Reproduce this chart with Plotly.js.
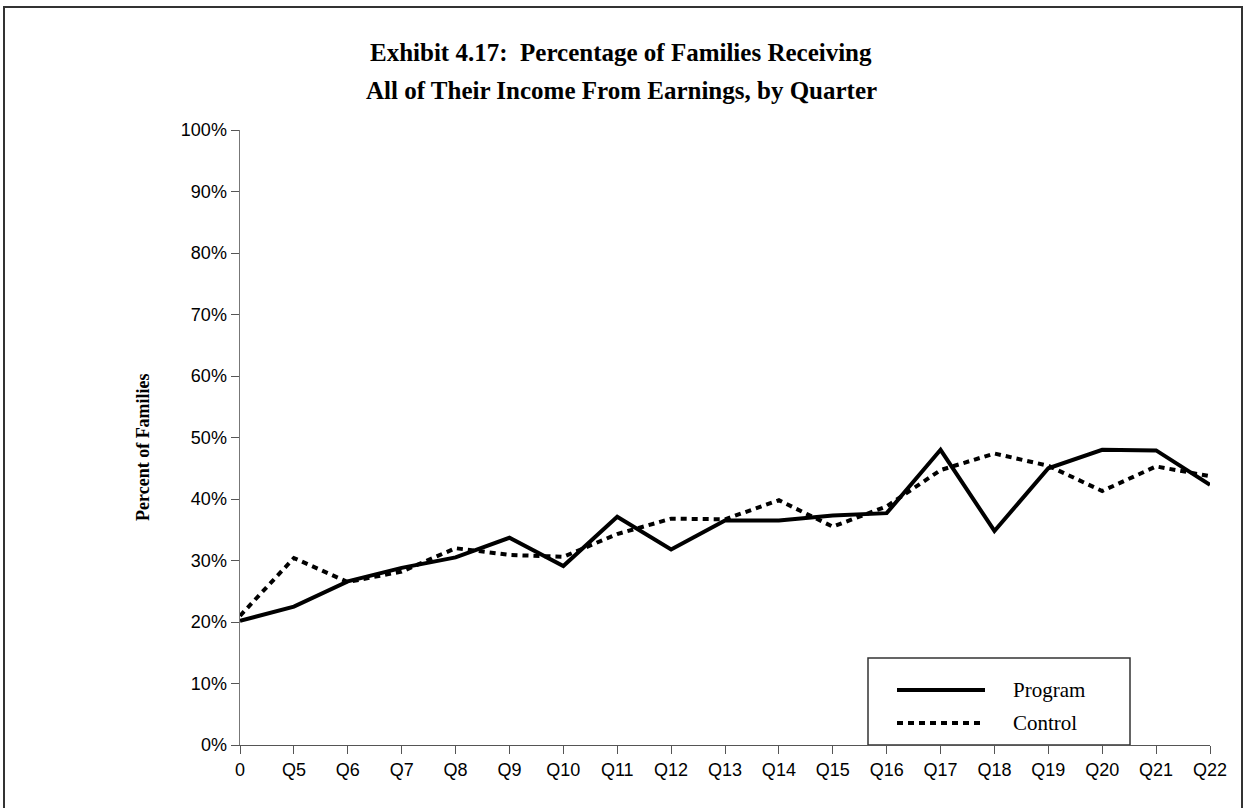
<!DOCTYPE html>
<html>
<head>
<meta charset="utf-8">
<script src="https://cdn.plot.ly/plotly-3.0.1.min.js"></script>
<style>
  html, body { margin: 0; padding: 0; background: #fff; overflow: hidden; }
  #frame { position: absolute; left: 3px; top: 6px; width: 1236px; height: 900px; border-left: 2px solid #333; border-top: 2px solid #333; border-right: 2px solid #333; pointer-events: none; }
  #chart { width: 1252px; height: 808px; }
</style>
</head>
<body>
<div id="chart"></div>
<div id="frame"></div>
<script>
const quarters = ["0","Q5","Q6","Q7","Q8","Q9","Q10","Q11","Q12","Q13","Q14","Q15","Q16","Q17","Q18","Q19","Q20","Q21","Q22"];
const programPct = [20.2, 22.5, 26.6, 28.8, 30.5, 33.7, 29.1, 37.1, 31.8, 36.5, 36.5, 37.3, 37.7, 48.0, 34.8, 45.0, 48.0, 47.9, 42.3];
const controlPct = [21.0, 30.4, 26.5, 28.2, 32.0, 30.9, 30.6, 34.3, 36.8, 36.7, 39.8, 35.5, 38.8, 44.7, 47.4, 45.4, 41.3, 45.3, 43.7];
const yTickVals = [0,10,20,30,40,50,60,70,80,90,100];
const yTickText = ["0%","10%","20%","30%","40%","50%","60%","70%","80%","90%","100%"];
const titleLines = ["Exhibit 4.17:  Percentage of Families Receiving", "All of Their Income From Earnings, by Quarter"];
const seriesNames = ["Program", "Control"];

const serif = "'Liberation Serif', 'Times New Roman', serif";
const sans = "'Liberation Sans', Arial, sans-serif";

const traces = [
  {x: quarters, y: programPct, type: "scatter", mode: "lines", name: seriesNames[0],
   line: {color: "#000", width: 4}, showlegend: false},
  {x: quarters, y: controlPct, type: "scatter", mode: "lines", name: seriesNames[1],
   line: {color: "#000", width: 4, dash: "6px,5px"}, showlegend: false}
];

// plot area in pixels
const L = 240, R = 1210, T = 130, B = 745;
const W = R - L, H = B - T;
const px = v => (v - L) / W;
const py = v => (B - v) / H;

const layout = {
  width: 1252, height: 808,
  margin: {l: L, r: 1252 - R, t: T, b: 808 - B, pad: 0},
  paper_bgcolor: "#fff", plot_bgcolor: "#fff",
  showlegend: false,
  xaxis: {
    type: "category", range: [0, quarters.length - 1],
    showgrid: false, zeroline: false,
    showline: true, linecolor: "#555", linewidth: 1,
    ticks: "outside", ticklen: 8, tickcolor: "#555", tickwidth: 1,
    tickfont: {family: sans, size: 18, color: "#000"},
    fixedrange: true
  },
  yaxis: {
    range: [0, 100], tickvals: yTickVals, ticktext: yTickText,
    showgrid: false, zeroline: false,
    showline: true, linecolor: "#777", linewidth: 1.5,
    ticks: "outside", ticklen: 8, tickcolor: "#555", tickwidth: 1,
    tickfont: {family: sans, size: 18, color: "#000"},
    fixedrange: true
  },
  annotations: [
    {text: "<b>" + titleLines[0] + "</b>", xref: "paper", yref: "paper", x: px(621), y: py(52),
     xanchor: "center", yanchor: "middle", showarrow: false, font: {family: serif, size: 25, color: "#000"}},
    {text: "<b>" + titleLines[1] + "</b>", xref: "paper", yref: "paper", x: px(621), y: py(90),
     xanchor: "center", yanchor: "middle", showarrow: false, font: {family: serif, size: 25, color: "#000"}},
    {text: "<b>Percent of Families</b>", xref: "paper", yref: "paper", x: px(143), y: py(447),
     xanchor: "center", yanchor: "middle", textangle: -90, showarrow: false, font: {family: serif, size: 18, color: "#000"}},
    {text: seriesNames[0], xref: "paper", yref: "paper", x: px(1011), y: py(690),
     xanchor: "left", yanchor: "middle", showarrow: false, font: {family: serif, size: 21, color: "#000"}},
    {text: seriesNames[1], xref: "paper", yref: "paper", x: px(1011), y: py(723),
     xanchor: "left", yanchor: "middle", showarrow: false, font: {family: serif, size: 21, color: "#000"}}
  ],
  shapes: [
    {type: "rect", xref: "paper", yref: "paper", x0: px(868), x1: px(1130), y0: py(745), y1: py(658),
     line: {color: "#333", width: 1.5}, fillcolor: "#fff", layer: "below"},
    {type: "line", xref: "paper", yref: "paper", x0: px(897), x1: px(985), y0: py(690), y1: py(690),
     line: {color: "#000", width: 4}},
    {type: "line", xref: "paper", yref: "paper", x0: px(897), x1: px(985), y0: py(723), y1: py(723),
     line: {color: "#000", width: 4, dash: "6px,5px"}}
  ]
};

Plotly.newPlot("chart", traces, layout, {displayModeBar: false, staticPlot: true});
</script>
</body>
</html>
